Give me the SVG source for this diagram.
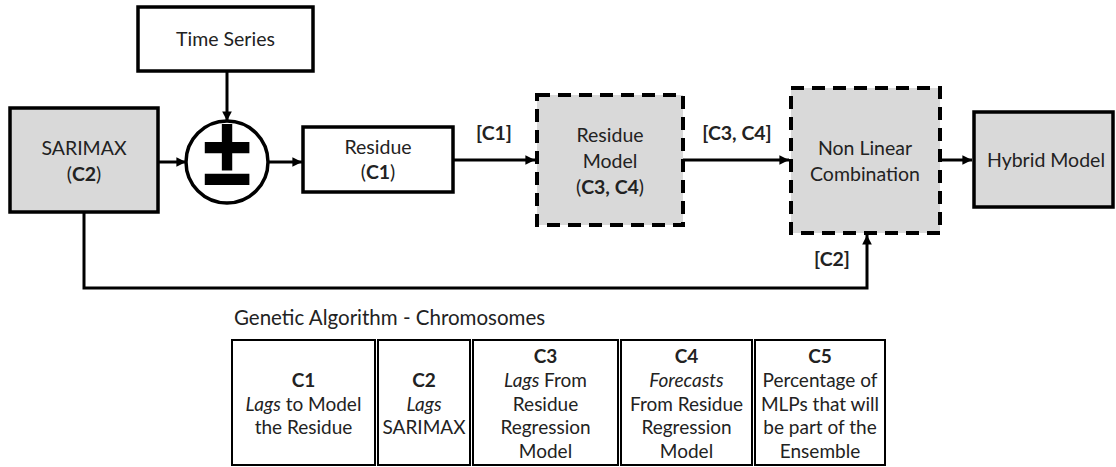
<svg xmlns="http://www.w3.org/2000/svg" width="1116" height="467" viewBox="0 0 1116 467">
<style>
text{font-family:Lato,"Open Sans","Liberation Sans",sans-serif;font-size:19.5px;fill:#222;}
.c{text-anchor:middle}
.b{font-weight:bold}
.i{font-style:italic}
.t{font-size:19px}
.box{stroke:#000;stroke-width:3.5;}
.white{fill:#fff}
.grey{fill:#d9d9d9}
.dash{fill:#d9d9d9;stroke:#000;stroke-width:4;stroke-dasharray:13 8}
.cell{fill:#fff;stroke:#000;stroke-width:2}
.conn{fill:none;stroke:#000;stroke-width:3}
.sym{font-size:84px;font-weight:bold;fill:#000;stroke:#000;stroke-width:1.5;text-anchor:middle}
</style>
<defs>
<marker id="ah" viewBox="0 0 10 10" refX="10" refY="5" markerWidth="3.2" markerHeight="3.2" orient="auto" markerUnits="strokeWidth">
<path d="M0,0 L10,5 L0,10 z" fill="#000"/>
</marker>
</defs>
<rect width="1116" height="467" fill="#fff"/>

<g id="connectors">
<line class="conn" x1="227" y1="71" x2="227" y2="121" marker-end="url(#ah)"/>
<line class="conn" x1="158" y1="162" x2="186" y2="162" marker-end="url(#ah)"/>
<line class="conn" x1="268" y1="162" x2="302" y2="162" marker-end="url(#ah)"/>
<line class="conn" x1="453" y1="160" x2="535" y2="160" marker-end="url(#ah)"/>
<line class="conn" x1="683" y1="160" x2="789" y2="160" marker-end="url(#ah)"/>
<line class="conn" x1="940" y1="160" x2="972" y2="160" marker-end="url(#ah)"/>
<polyline class="conn" points="84,212 84,288 867,288 867,235" marker-end="url(#ah)"/>
<text class="c b" x="494" y="140">[C1]</text>
<text class="c b" x="737" y="140">[C3, C4]</text>
<text class="c b" x="832" y="266">[C2]</text>
</g>

<g id="time-series">
<rect class="box white" x="138" y="7" width="175" height="64"/>
<text class="c" x="225.5" y="46">Time Series</text>
</g>

<g id="sarimax">
<rect class="box grey" x="10" y="108" width="148" height="104"/>
<text class="c" x="84" y="155">SARIMAX</text>
<text class="c" x="84" y="181">(<tspan class="b">C2</tspan>)</text>
</g>

<g id="sum">
<circle cx="227" cy="162" r="41" fill="#fff" stroke="#000" stroke-width="3.5"/>
<text class="sym" x="0" y="0" transform="translate(227,188) scale(1.05,1.2)">±</text>
</g>

<g id="residue">
<rect class="box white" x="303" y="127" width="150" height="65"/>
<text class="c" x="378" y="154">Residue</text>
<text class="c" x="378" y="179">(<tspan class="b">C1</tspan>)</text>
</g>

<g id="residue-model">
<rect class="dash" x="537" y="95" width="146" height="130"/>
<text class="c" x="610" y="142">Residue</text>
<text class="c" x="610" y="168">Model</text>
<text class="c" x="610" y="194">(<tspan class="b">C3, C4</tspan>)</text>
</g>

<g id="non-linear">
<rect class="dash" x="791" y="88" width="149" height="145"/>
<text class="c" x="865" y="155">Non Linear</text>
<text class="c" x="865" y="181">Combination</text>
</g>

<g id="hybrid">
<rect class="box grey" x="974" y="112" width="139" height="95"/>
<text class="c" x="1046" y="167">Hybrid Model</text>
</g>

<g id="chromosomes">
<text x="234" y="325" style="font-size:20.5px">Genetic Algorithm - Chromosomes</text>
<g id="cell-c1">
<rect class="cell" x="232" y="340" width="143" height="125"/>
<text class="c b t" x="303.5" y="387">C1</text>
<text class="c t" x="303.5" y="411"><tspan class="i">Lags</tspan> to Model</text>
<text class="c t" x="303.5" y="434">the Residue</text>
</g>
<g id="cell-c2">
<rect class="cell" x="378" y="340" width="92" height="125"/>
<text class="c b t" x="424" y="387">C2</text>
<text class="c i t" x="424" y="411">Lags</text>
<text class="c t" x="424" y="434">SARIMAX</text>
</g>
<g id="cell-c3">
<rect class="cell" x="473" y="340" width="145" height="125"/>
<text class="c b t" x="545.5" y="363">C3</text>
<text class="c t" x="545.5" y="387"><tspan class="i">Lags</tspan> From</text>
<text class="c t" x="545.5" y="411">Residue</text>
<text class="c t" x="545.5" y="434">Regression</text>
<text class="c t" x="545.5" y="458">Model</text>
</g>
<g id="cell-c4">
<rect class="cell" x="621" y="340" width="131" height="125"/>
<text class="c b t" x="686.5" y="363">C4</text>
<text class="c i t" x="686.5" y="387">Forecasts</text>
<text class="c t" x="686.5" y="411">From Residue</text>
<text class="c t" x="686.5" y="434">Regression</text>
<text class="c t" x="686.5" y="458">Model</text>
</g>
<g id="cell-c5">
<rect class="cell" x="755" y="340" width="130" height="125"/>
<text class="c b t" x="820" y="363">C5</text>
<text class="c t" x="820" y="387">Percentage of</text>
<text class="c t" x="820" y="411">MLPs that will</text>
<text class="c t" x="820" y="434">be part of the</text>
<text class="c t" x="820" y="458">Ensemble</text>
</g>
</g>
</svg>
